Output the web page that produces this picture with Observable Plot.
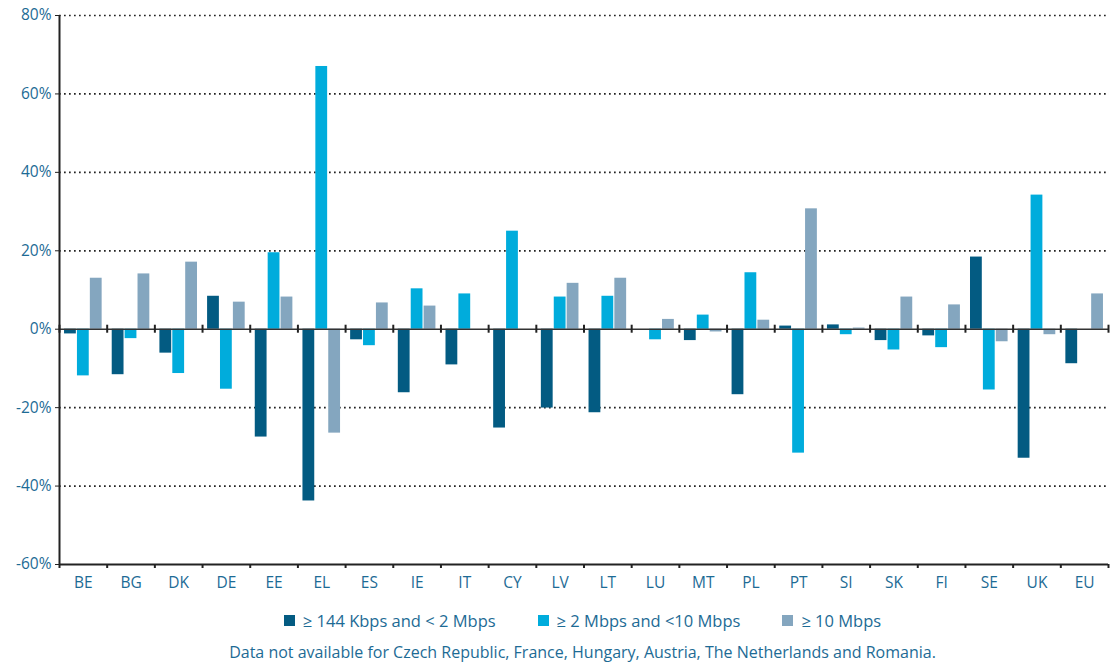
<!DOCTYPE html>
<html>
<head>
<meta charset="utf-8">
<script src="https://cdn.jsdelivr.net/npm/d3@7"></script>
<script src="https://cdn.jsdelivr.net/npm/@observablehq/plot@0.6"></script>
<style>
  html, body { margin: 0; padding: 0; background: #fff; }
  body { width: 1113px; font-family: "Open Sans", sans-serif; color: #1d6b95; }
  #legend { display: flex; justify-content: center; align-items: center; font-size: 16.5px; height: 26px; margin-top: 6px; padding-left: 52px; }
  #legend .item { display: flex; align-items: center; margin: 0 21px; }
  #legend .sw { width: 11px; height: 11px; margin-right: 8px; }
  #note { text-align: center; font-size: 16px; margin-top: 8px; padding-left: 52px; }
</style>
</head>
<body>
<div id="chart"></div>
<div id="legend"></div>
<div id="note"></div>
<script>
const countries = ["BE","BG","DK","DE","EE","EL","ES","IE","IT","CY","LV","LT","LU","MT","PL","PT","SI","SK","FI","SE","UK","EU"];
const seriesNames = ["≥ 144 Kbps and < 2 Mbps", "≥ 2 Mbps and <10 Mbps", "≥ 10 Mbps"];
const seriesColors = ["#035b82", "#00acdc", "#84a6bf"];
const lowSpeed  = [-1.2,-11.6,-6.1,8.4,-27.5,-43.8,-2.7,-16.2,-9.1,-25.2,-20.1,-21.3,null,-2.9,-16.7,0.8,1.1,-2.9,-1.7,18.4,-32.9,-8.8];
const midSpeed  = [-11.9,-2.4,-11.3,-15.3,19.5,67.0,-4.2,10.3,9.0,25.0,8.2,8.4,-2.7,3.6,14.4,-31.6,-1.4,-5.3,-4.7,-15.5,34.2,null];
const highSpeed = [13.0,14.1,17.1,6.9,8.2,-26.5,6.7,5.9,null,null,11.7,13.0,2.5,-0.7,2.3,30.7,0.3,8.2,6.2,-3.2,-1.4,9.0];
const yTicks = [-60,-40,-20,0,20,40,60,80];
const gridTicks = [-40,-20,20,40,60,80];
const note = "Data not available for Czech Republic, France, Hungary, Austria, The Netherlands and Romania.";

const W = 1113, H = 601, mL = 59, mR = 5, mT = 15, mB = 37;
const step = (W - mL - mR) / countries.length;
const barW = 11.8, pitch = 12.9;
const inset = (step - barW) / 2;
const textColor = "#1d6b95";
const axisColor = "#222";

const seriesData = [lowSpeed, midSpeed, highSpeed].map(vals =>
  countries.map((c, i) => ({country: c, value: vals[i]})).filter(d => d.value != null)
);

const barMarks = seriesData.map((data, s) =>
  Plot.barY(data, {x: "country", y: "value", fill: seriesColors[s], dx: (s - 1) * pitch, insetLeft: inset, insetRight: inset})
);

const chart = Plot.plot({
  width: W, height: H,
  marginLeft: mL, marginRight: mR, marginTop: mT, marginBottom: mB,
  style: {fontFamily: "'Open Sans', sans-serif", fontSize: "15px", background: "#fff"},
  x: {type: "band", domain: countries, padding: 0, round: false, axis: null},
  y: {domain: [-60, 80], axis: null},
  marks: [
    Plot.ruleY(gridTicks, {stroke: axisColor, strokeWidth: 1.7, strokeDasharray: "1.7,3.3"}),
    ...barMarks,
    Plot.ruleY([0], {stroke: "#333", strokeWidth: 1.4}),
    Plot.ruleX(countries, {x: d => d, dx: -step / 2, y1: 0, y2: 0, insetTop: -4, insetBottom: -4, stroke: axisColor, strokeWidth: 2}),
    Plot.ruleX(countries.slice(-1), {x: d => d, dx: step / 2, y1: 0, y2: 0, insetTop: -4, insetBottom: -4, stroke: axisColor, strokeWidth: 2}),
    Plot.ruleY([-60], {stroke: axisColor, strokeWidth: 2}),
    Plot.ruleX(countries, {x: d => d, dx: -step / 2, y1: -60, y2: -60, insetBottom: -4, stroke: axisColor, strokeWidth: 2}),
    Plot.ruleX(countries.slice(-1), {x: d => d, dx: step / 2, y1: -60, y2: -60, insetBottom: -4, stroke: axisColor, strokeWidth: 2}),
    Plot.ruleX(countries.slice(0, 1), {x: d => d, dx: -step / 2, y1: -60, y2: 80, stroke: axisColor, strokeWidth: 2}),
    Plot.axisY({ticks: yTicks, tickFormat: d => d + "%", tickSize: 4, tickPadding: 4, stroke: axisColor, fill: textColor, fontSize: 15.5, label: null}),
    Plot.axisX({tickSize: 0, tickPadding: 12, fill: textColor, fontSize: 15.5, label: null})
  ]
});
document.getElementById("chart").appendChild(chart);

const legend = document.getElementById("legend");
seriesNames.forEach((name, s) => {
  const item = document.createElement("div");
  item.className = "item";
  const sw = document.createElement("span");
  sw.className = "sw";
  sw.style.background = seriesColors[s];
  const label = document.createElement("span");
  label.textContent = name;
  item.appendChild(sw);
  item.appendChild(label);
  legend.appendChild(item);
});
document.getElementById("note").textContent = note;
</script>
</body>
</html>
